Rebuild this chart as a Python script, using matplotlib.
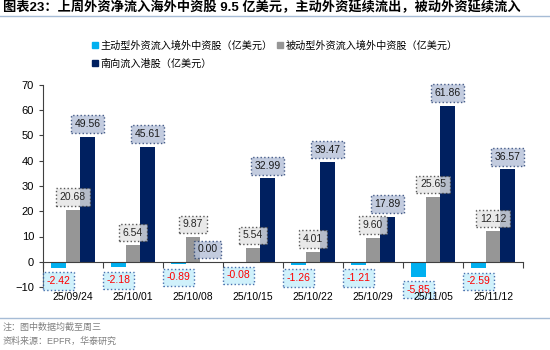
import numpy as np
import matplotlib
matplotlib.use('Agg')
import matplotlib.pyplot as plt
from matplotlib.lines import Line2D

plt.rcParams['font.family'] = ['Liberation Sans', 'Noto Sans CJK SC', 'DejaVu Sans']

dates = ['25/09/24', '25/10/01', '25/10/08', '25/10/15', '25/10/22', '25/10/29', '25/11/05', '25/11/12']
active = [-2.42, -2.18, -0.89, -0.08, -1.26, -1.21, -5.85, -2.59]
passive = [20.68, 6.54, 9.87, 5.54, 4.01, 9.60, 25.65, 12.12]
southbound = [49.56, 45.61, 0.00, 32.99, 39.47, 17.89, 61.86, 36.57]

names = ['主动型外资流入境外中资股（亿美元）', '被动型外资流入境外中资股（亿美元）', '南向流入港股（亿美元）']
colors = ['#00B0F0', '#969696', '#002060']

fig = plt.figure(figsize=(5.5, 3.5), dpi=100)
ax = fig.add_axes([43 / 550, 1 - 287 / 350, 480 / 550, 202 / 350])

x = np.arange(len(dates))
w = 0.245
ax.bar(x - w, active, w, color=colors[0])
ax.bar(x, passive, w, color=colors[1])
ax.bar(x + w, southbound, w, color=colors[2])


def add_labels(xs, vals, dy, fc, ec, tc):
    for xi, v in zip(xs, vals):
        ax.annotate(f'{v:.2f}', (xi, v), xytext=(0, dy), textcoords='offset points',
                    ha='center', va='center', fontsize=7.5, color=tc,
                    bbox=dict(boxstyle='square,pad=0.35', fc=fc, ec=ec, ls=':', lw=1, alpha=0.8))


add_labels(x - w, active, -9.5, '#C5EEFB', '#1F4E9A', '#FF0000')
add_labels(x, passive, 9, '#E4E4E4', '#303030', '#262626')
add_labels(x + w, southbound, 9, '#B4C0D8', '#1F3A6E', '#1A1A1A')

ax.set_xlim(-0.5, len(dates) - 0.5)
ax.set_ylim(-10, 70)
ax.set_yticks(range(-10, 71, 10))
ax.tick_params(axis='y', labelsize=8, length=3, color='#404040')
ax.spines['top'].set_visible(False)
ax.spines['right'].set_visible(False)
ax.spines['left'].set_color('#404040')
ax.spines['bottom'].set_position(('data', 0))
ax.spines['bottom'].set_color('#404040')
ax.set_xticks(np.arange(len(dates) + 1) - 0.5)
ax.set_xticklabels([])
ax.tick_params(axis='x', length=4, direction='out', color='#404040')
for xi, d in zip(x, dates):
    ax.text(xi, -0.05, d, transform=ax.get_xaxis_transform(), ha='center', va='center', fontsize=7.5)

handles = [Line2D([], [], marker='s', ls='', color=c, markersize=5) for c in colors]
fig.legend([handles[0], handles[2], handles[1]], [names[0], names[2], names[1]],
           loc='upper left', bbox_to_anchor=(82 / 550, 1 - 31 / 350), ncol=2, frameon=False,
           fontsize=7.3, handletextpad=0.1, columnspacing=0.4, labelspacing=0.8,
           handlelength=0.8)

fig.text(3 / 550, 1 - 7 / 350, '图表23：上周外资净流入海外中资股 9.5 亿美元，主动外资延续流出，被动外资延续流入',
         fontsize=9.5, fontweight='bold', va='center', ha='left')
fig.add_artist(Line2D([0, 1], [1 - 16 / 350, 1 - 16 / 350], color='#A6BCD6', lw=1))
fig.add_artist(Line2D([0, 1], [1 - 318 / 350, 1 - 318 / 350], color='#A6BCD6', lw=1))
fig.text(3 / 550, 1 - 327 / 350, '注：图中数据均截至周三', fontsize=6.5, color='#808080', va='center')
fig.text(3 / 550, 1 - 341 / 350, '资料来源：EPFR，华泰研究', fontsize=6.5, color='#808080', va='center')

fig.savefig('out.png', dpi=100)
